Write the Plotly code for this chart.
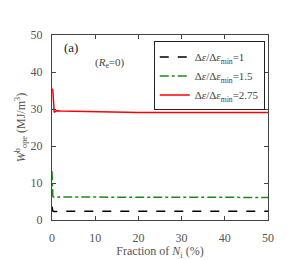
import plotly.graph_objects as go

frac_x = [0, 0.2, 0.5, 1, 2, 5, 10, 15, 20, 30, 40, 50]
black_y = [3.6, 2.4, 2.3, 2.35, 2.35, 2.35, 2.35, 2.35, 2.35, 2.35, 2.35, 2.35]
green_y = [13.2, 6.4, 6.1, 6.2, 6.2, 6.2, 6.2, 6.15, 6.15, 6.1, 6.1, 6.1]
red_y = [35.5, 35.0, 29.1, 29.5, 29.45, 29.35, 29.2, 29.05, 29.05, 29.05, 29.05, 29.05]

names = ["Δ<i>ε</i>/Δ<i>ε</i><sub>min</sub>=1",
         "Δ<i>ε</i>/Δ<i>ε</i><sub>min</sub>=1.5",
         "Δ<i>ε</i>/Δ<i>ε</i><sub>min</sub>=2.75"]

font = "Liberation Serif"
fig = go.Figure()
fig.add_trace(go.Scatter(x=frac_x, y=black_y, mode="lines", name=names[0],
                         line=dict(color="black", width=1.5, dash="dash")))
fig.add_trace(go.Scatter(x=frac_x, y=green_y, mode="lines", name=names[1],
                         line=dict(color="#1a8a1a", width=1.5, dash="dashdot")))
fig.add_trace(go.Scatter(x=frac_x, y=red_y, mode="lines", name=names[2],
                         line=dict(color="red", width=1.5)))

axis_common = dict(showgrid=False, zeroline=False, showline=True, linecolor="#444",
                   linewidth=1.2, mirror="ticks", ticks="inside", ticklen=4,
                   tickcolor="#444", ticklabelstandoff=6,
                   tickfont=dict(family=font, size=12, color="#555"))
fig.update_xaxes(range=[0, 50], tickvals=[0, 10, 20, 30, 40, 50],
                 title=dict(text="Fraction of <i>N</i><sub>i</sub> (%)", standoff=3,
                            font=dict(family=font, size=12, color="#555")),
                 **axis_common)
fig.update_yaxes(range=[0, 50], tickvals=[0, 10, 20, 30, 40, 50],
                 title=dict(text="<i>W</i><sup>b</sup><sub>ope</sub> (MJ/m<sup>3</sup>)", standoff=2,
                            font=dict(family=font, size=12, color="#555")),
                 **axis_common)
fig.add_annotation(x=4.3, y=46.5, text="(a)", showarrow=False, xref="x", yref="y",
                   font=dict(family=font, size=13, color="#222"))
fig.add_annotation(x=13.5, y=42.5, text="(<i>R</i><sub>e</sub>=0)", showarrow=False,
                   xref="x", yref="y", font=dict(family=font, size=11, color="#444"))
fig.update_layout(
    width=289, height=260, margin=dict(l=40, r=29, t=27, b=45),
    paper_bgcolor="white", plot_bgcolor="white",
    legend=dict(x=0.985, y=0.965, xanchor="right", yanchor="top",
                bordercolor="#222", borderwidth=1, bgcolor="white",
                font=dict(family=font, size=11, color="#444"),
                tracegroupgap=0, itemwidth=30),
    showlegend=True,
)
fig.write_html("out.html")
